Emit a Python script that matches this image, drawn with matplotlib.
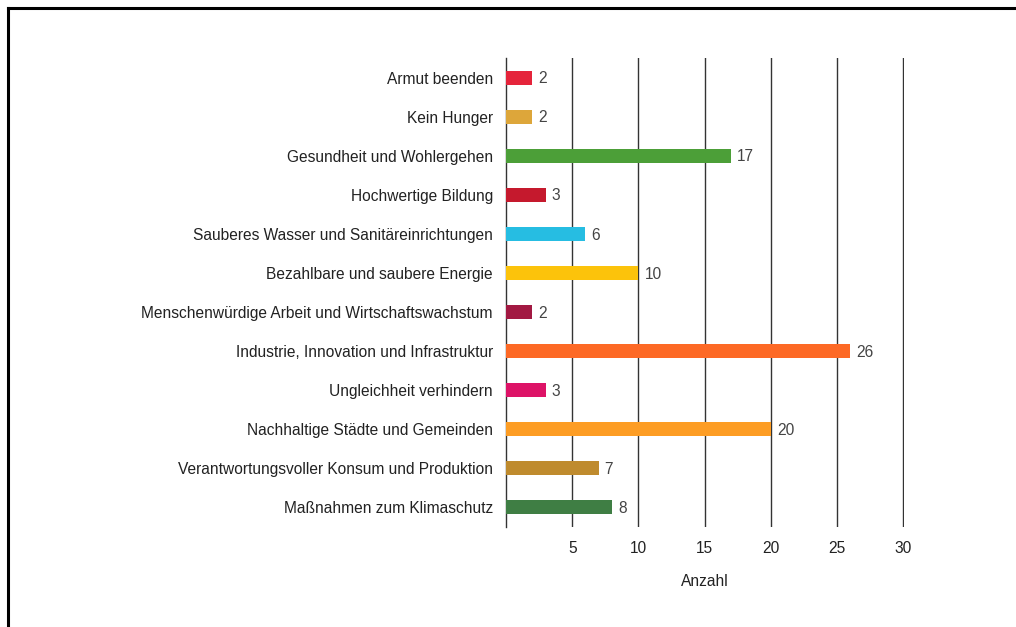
import matplotlib.pyplot as plt
from matplotlib.lines import Line2D

plt.rcParams['font.family'] = ['Liberation Sans', 'DejaVu Sans']

# SDG categories and counts (top to bottom)
goals = ['Armut beenden', 'Kein Hunger', 'Gesundheit und Wohlergehen',
         'Hochwertige Bildung', 'Sauberes Wasser und Sanitäreinrichtungen',
         'Bezahlbare und saubere Energie',
         'Menschenwürdige Arbeit und Wirtschaftswachstum',
         'Industrie, Innovation und Infrastruktur', 'Ungleichheit verhindern',
         'Nachhaltige Städte und Gemeinden',
         'Verantwortungsvoller Konsum und Produktion',
         'Maßnahmen zum Klimaschutz']
counts = [2, 2, 17, 3, 6, 10, 2, 26, 3, 20, 7, 8]
colors = ['#E5243B', '#DDA63A', '#4C9F38', '#C5192D', '#26BDE2', '#FCC30B',
          '#A21942', '#FD6925', '#DD1367', '#FD9D24', '#BF8B2E', '#3F7E44']
xticks = [5, 10, 15, 20, 25, 30]

fig = plt.figure(figsize=(10.16, 6.27), dpi=100)
ax = fig.add_axes([0.498, 0.1595, 0.3915, 0.748])

pos = list(range(len(goals)))
ax.barh(pos, counts, height=0.36, color=colors, zorder=3)
for p, c in zip(pos, counts):
    ax.text(c + 0.45, p + 0.03, str(c), va='center', ha='left', fontsize=11.2,
            color='#444444', zorder=4)

ax.set_ylim(len(goals) - 0.5, -0.5)
ax.set_xlim(0, 30.03)
ax.set_yticks(pos)
ax.set_yticklabels(goals, fontsize=11.2, color='#222222')
ax.set_xticks(xticks)
ax.set_xticklabels([str(t) for t in xticks], fontsize=11.2, color='#222222')
ax.tick_params(axis='both', length=0, pad=10)
ax.tick_params(axis='y', pad=9.5)
ax.xaxis.grid(True, color='#333333', linewidth=1, zorder=1)
for s in ['top', 'right', 'bottom']:
    ax.spines[s].set_visible(False)
ax.spines['left'].set_color('#333333')
ax.spines['left'].set_linewidth(1)
ax.set_xlabel('Anzahl', fontsize=11.2, color='#222222', labelpad=13)

# frame lines at left and top of the image
fig.add_artist(Line2D([0.0075, 0.0075], [0, 0.987], transform=fig.transFigure,
                      color='black', linewidth=2.2))
fig.add_artist(Line2D([0.0075, 1.0], [0.987, 0.987], transform=fig.transFigure,
                      color='black', linewidth=2.2))

fig.savefig('out.png', dpi=100)
